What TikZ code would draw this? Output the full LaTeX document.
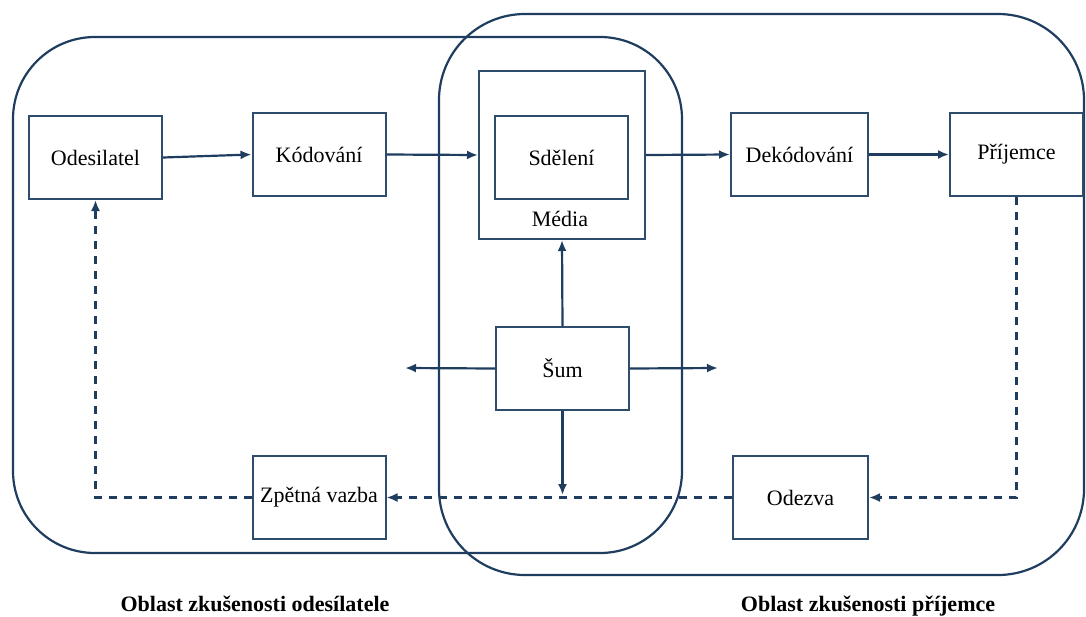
\documentclass[tikz,border=0pt]{standalone}
\usepackage{fontspec}
\setmainfont{Liberation Serif}
\usetikzlibrary{arrows.meta}
\definecolor{linka}{HTML}{1F3D5E}
\definecolor{ramecek}{HTML}{2E4C6C}
\begin{document}
\begin{tikzpicture}[x=0.5pt,y=-0.5pt,
  box/.style={draw=ramecek, line width=1pt, minimum width=66.5pt, minimum height=41.5pt, inner sep=0pt, font=\fontsize{11}{13}\selectfont},
  oblast/.style={draw=linka, line width=1.1pt, rounded corners=41pt},
  sipka/.style={draw=linka, line width=1.1pt, -{Latex[length=5.5pt,width=4.5pt]}},
  zpet/.style={sipka, line width=1.4pt, dash pattern=on 4pt off 3.5pt},
  popis/.style={font=\fontsize{11}{13}\selectfont\bfseries}]
\useasboundingbox (0,0) rectangle (1086,616);
% oblasti zkusenosti
\draw[oblast] (13,37) rectangle (682,553);
\draw[oblast, rounded corners=43pt] (439,14) rectangle (1084,575);
% bloky
\node[box] (odesilatel) at (95.5,157.5) {Odesilatel};
\node[box] (kodovani) at (319,154.5) {Kódování};
\node[box, minimum width=83pt, minimum height=84pt] (media) at (562,155) {};
\node[box, line width=0.8pt] (sdeleni) at (561.5,157.5) {Sdělení};
\node[font=\fontsize{11}{13}\selectfont] (medialabel) at (560,219) {Média};
\node[box, minimum width=68.5pt] (dekodovani) at (799.5,154.5) {Dekódování};
\node[box] (prijemce) at (1016.5,154.5) {\raisebox{2pt}{Příjemce}};
\node[box] (sum) at (562.5,368.5) {Šum};
\node[box] (zpetna) at (319,497.5) {Zpětná vazba};
\node[box, minimum width=67.5pt] (odezva) at (800.5,497.5) {Odezva};
\coordinate (sumL) at (405,368);
\coordinate (sumR) at (718,368);
\coordinate (sumD) at (562.5,495);
% tok sdeleni
\draw[sipka] (odesilatel.east) -- (kodovani.west);
\draw[sipka] (kodovani.east) -- (media.west);
\draw[sipka] (media.east) -- (dekodovani.west);
\draw[sipka] (dekodovani.east) -- (prijemce.west);
% sum
\draw[sipka] (sum.north) -- (media.south);
\draw[sipka] (sum.west) -- (sumL);
\draw[sipka] (sum.east) -- (sumR);
\draw[sipka] (sum.south) -- (sumD);
% zpetna vazba
\draw[zpet] (prijemce.south) |- (odezva.east);
\draw[zpet] (odezva.west) -- (zpetna.east);
\draw[zpet] (zpetna.west) -| (odesilatel.south);
\node[popis] (levy) at (255,604) {Oblast zkušenosti odesílatele};
\node[popis] (pravy) at (868,606) {Oblast zkušenosti příjemce};
\end{tikzpicture}
\end{document}
